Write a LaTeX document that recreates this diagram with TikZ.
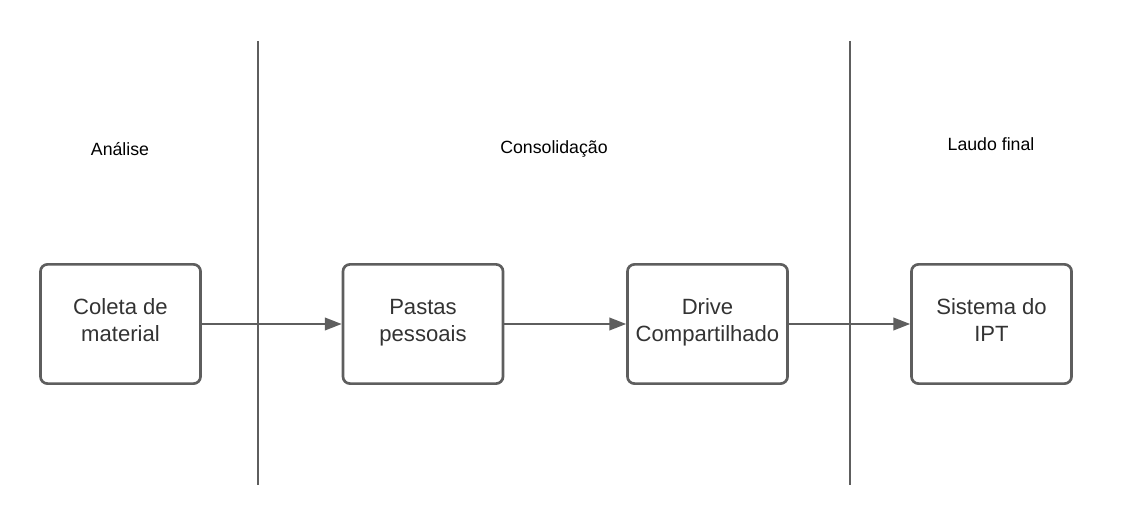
\documentclass[tikz,border=0pt]{standalone}
\usepackage{fontspec}
\setmainfont{Liberation Sans}
\usetikzlibrary{arrows.meta}
\definecolor{linegray}{HTML}{5E5E5E}
\definecolor{textgray}{HTML}{333333}
\tikzset{
	stagebox/.style={draw=linegray, line width=1.9pt, rounded corners=5pt, minimum width=4cm, minimum height=2.98cm, align=center, text=textgray, text height=28pt, text depth=3.8pt, font=\fontsize{15.7}{19}\selectfont},
	stagelabel/.style={text=black, font=\fontsize{12.6}{15}\selectfont},
	divider/.style={draw=linegray, line width=1.7pt},
	flow/.style={draw=linegray, line width=1.4pt, -{Triangle[length=12pt, width=9pt]}}
}
\begin{document}
\begin{tikzpicture}[x=0.025cm, y=0.025cm]
		%%%%% START %%%%%
		\useasboundingbox (0, 0) rectangle (1123, 526);
		
		\draw[divider] (258, 485) -- (258, 41);
		\draw[divider] (850, 485) -- (850, 41);
		
		\node[stagelabel] (analise) at (120, 377) {Análise};
		\node[stagelabel] (consolidacao) at (554, 377) {Consolidação};
		\node[stagelabel] (laudo) at (991, 382) {Laudo final};
		
		\node[stagebox] (coleta) at (120.5, 202) {Coleta de\\material};
		\node[stagebox] (pastas) at (423, 202) {Pastas\\pessoais};
		\node[stagebox] (drive) at (707.5, 202) {Drive\\Compartilhado};
		\node[stagebox] (sistema) at (991.5, 202) {Sistema do\\IPT};
		
		\draw[flow] (coleta) -- (pastas);
		\draw[flow] (pastas) -- (drive);
		\draw[flow] (drive) -- (sistema);
		%%%%% END %%%%%
\end{tikzpicture}
\end{document}
